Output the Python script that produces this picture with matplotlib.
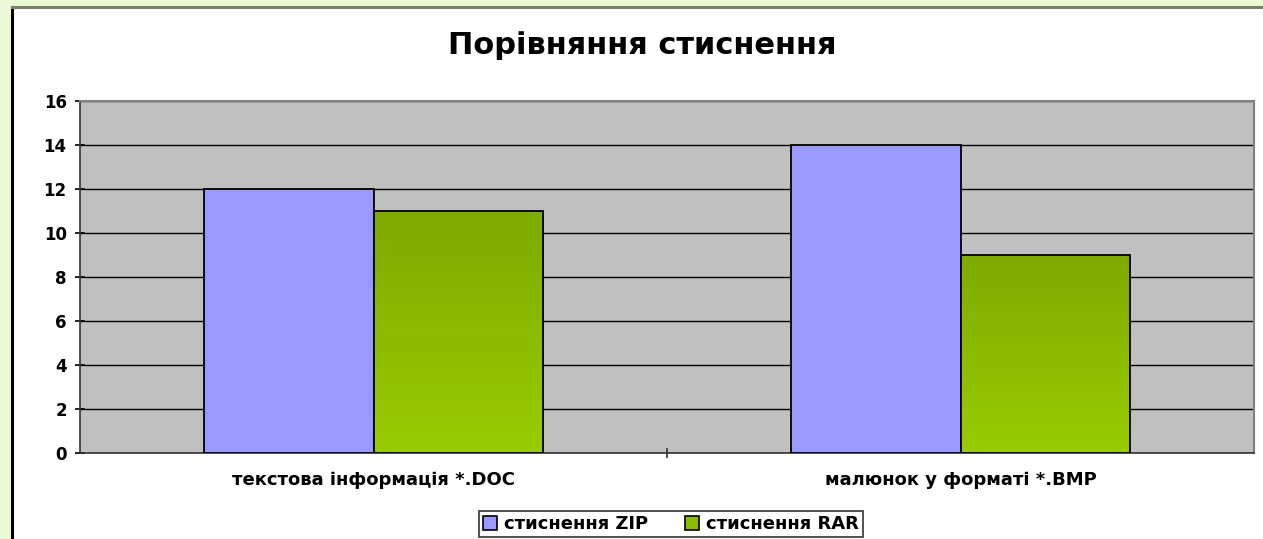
import matplotlib.pyplot as plt
import numpy as np
from matplotlib.patches import Rectangle
from matplotlib.colors import LinearSegmentedColormap

plt.rcParams['font.family'] = ['DejaVu Sans']

categories = ['текстова інформація *.DOC', 'малюнок у форматі *.BMP']
zip_values = [12, 14]
rar_values = [11, 9]
series_names = ['стиснення ZIP', 'стиснення RAR']
y_ticks = [0, 2, 4, 6, 8, 10, 12, 14, 16]

W, H = 1263, 539
fig = plt.figure(figsize=(W / 100, H / 100), dpi=100)
fig.patch.set_facecolor('#ebf9d6')

# white chart panel with dark edge on left/top
fig.patches.append(Rectangle((12 / W, 0), 1, 1 - 7 / H, transform=fig.transFigure,
                             facecolor='white', edgecolor='none', zorder=-1))
fig.add_artist(plt.Line2D([12 / W, 12 / W], [0, 1 - 7 / H], transform=fig.transFigure,
                          color='black', linewidth=2.2))
fig.add_artist(plt.Line2D([12 / W, 1], [1 - 7 / H, 1 - 7 / H], transform=fig.transFigure,
                          color='#7a8070', linewidth=2.2))

left, right, top, bottom = 80, 1254, 101, 453
ax = fig.add_axes([left / W, 1 - bottom / H, (right - left) / W, (bottom - top) / H])
ax.set_facecolor('#c0c0c0')

x = np.arange(len(categories))
bw = 0.288
ax.bar(x - bw / 2, zip_values, bw, color='#9999ff', edgecolor='black', linewidth=1.3,
       zorder=3, label=series_names[0])

# gradient green bars
grad = np.linspace(0, 1, 256).reshape(-1, 1)
green_cmap = LinearSegmentedColormap.from_list('g', ['#99cc00', '#7faa00'])
rar_bars = ax.bar(x + bw / 2, rar_values, bw, color='#8cbb00', edgecolor='black',
                  linewidth=1.3, zorder=3, label=series_names[1])
for b in rar_bars:
    bx, by = b.get_x(), b.get_y()
    bwid, bh = b.get_width(), b.get_height()
    ax.imshow(grad, cmap=green_cmap, aspect='auto', origin='lower',
              extent=[bx, bx + bwid, by, by + bh], zorder=3.5)
    b.set_facecolor('none')
    b.set_zorder(4)

ax.set_xlim(-0.5, 1.5)
ax.set_ylim(0, 16)
ax.set_yticks(y_ticks)
ax.yaxis.grid(True, color='black', linewidth=1.0, zorder=1)
ax.set_axisbelow(True)
ax.set_xticks([0.5])
ax.set_xticklabels([''])
ax.tick_params(axis='x', length=7, direction='inout', width=1.2, color='#333333')
for i, c in enumerate(categories):
    ax.text(x[i], -0.8, c, ha='center', va='top', fontsize=13, fontweight='bold')
ax.tick_params(axis='y', length=7, direction='inout', width=1.2, labelsize=12, pad=6)
for lab in ax.get_yticklabels():
    lab.set_fontweight('bold')

for s in ['top', 'right']:
    ax.spines[s].set_color('#808080')
    ax.spines[s].set_linewidth(1.5)
ax.spines['left'].set_color('#333333')
ax.spines['bottom'].set_color('#333333')
ax.spines['left'].set_linewidth(1.2)
ax.spines['bottom'].set_linewidth(1.2)

fig.text(642 / W, 1 - 46 / H, 'Порівняння стиснення', ha='center', va='center',
         fontsize=22, fontweight='bold')

handles = [Rectangle((0, 0), 1, 1, facecolor='#9999ff', edgecolor='black', linewidth=1.2),
           Rectangle((0, 0), 1, 1, facecolor='#8cbb00', edgecolor='black', linewidth=1.2)]
leg = fig.legend(handles, series_names, loc='center', bbox_to_anchor=(671 / W, 1 - 524 / H),
                 ncol=2, frameon=True, fancybox=False, edgecolor='black',
                 prop={'weight': 'bold', 'size': 13}, handlelength=0.8, handleheight=0.8,
                 handletextpad=0.4, columnspacing=2.0, borderpad=0.2)
leg.get_frame().set_linewidth(1.2)

fig.savefig('out.png', dpi=100, facecolor=fig.get_facecolor())
